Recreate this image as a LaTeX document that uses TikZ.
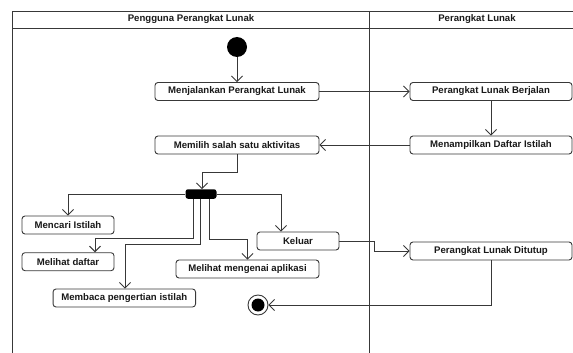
\documentclass[tikz,border=0pt]{standalone}
\usepackage{fontspec}
\setmainfont{Liberation Sans}
\usetikzlibrary{arrows.meta}
\begin{document}
\begin{tikzpicture}[x=1pt,y=-1pt,
  ln/.style={draw=black!78,line width=0.9pt},
  flow/.style={ln,-{Straight Barb[length=5.5pt,width=11pt,line width=0.9pt]}},
  act/.style={ln,rounded corners=3pt,fill=white,minimum height=18pt,inner sep=0pt,
    font=\fontsize{9.6}{11}\selectfont\bfseries,text=black!90},
  hdr/.style={font=\fontsize{9.6}{11}\selectfont\bfseries,text=black!90}]
\useasboundingbox (0,0) rectangle (573,353);
% swimlane frame
\coordinate (fl) at (12.8,11);
\coordinate (fr) at (573,11);
\coordinate (hl) at (12.8,28.3);
\coordinate (hr) at (573,28.3);
\coordinate (bl) at (12.8,353);
\coordinate (dt) at (369,11);
\coordinate (db) at (369,353);
\draw[ln] (bl) -- (fl) -- (fr);
\draw[ln] (hl) -- (hr);
\draw[ln] (dt) -- (db);
\node[hdr] (h1) at (191,19.5) {Pengguna Perangkat Lunak};
\node[hdr] (h2) at (477,19.5) {Perangkat Lunak};
% nodes
\node[circle,fill=black,minimum size=20pt,inner sep=0pt] (start) at (237,47) {};
\node[act,minimum width=164pt] (m1) at (237,91.5) {Menjalankan Perangkat Lunak};
\node[act,minimum width=162pt] (p1) at (491,91.5) {Perangkat Lunak Berjalan};
\node[act,minimum width=164pt] (m2) at (237,145) {Memilih salah satu aktivitas};
\node[act,minimum width=162pt] (p2) at (491,145) {Menampilkan Daftar Istilah};
\node[fill=black,rounded corners=2.5pt,minimum width=31pt,minimum height=9.5pt,inner sep=0pt] (bar) at (201,194) {};
\node[act,minimum width=92pt] (a1) at (68,225) {Mencari Istilah};
\node[act,minimum width=92pt] (a2) at (68,261.7) {Melihat daftar};
\node[act,minimum width=142.5pt] (a3) at (124.3,298) {Membaca pengertian istilah};
\node[act,minimum width=143pt] (a4) at (247.5,269) {Melihat mengenai aplikasi};
\node[act,minimum width=82pt] (k) at (298,241) {Keluar};
\node[act,minimum width=162pt] (p3) at (491,251) {Perangkat Lunak Ditutup};
\node[circle,draw=black!78,line width=0.9pt,fill=white,minimum size=20pt,inner sep=0pt] (end) at (258,305) {};
\node[circle,fill=black,minimum size=13pt,inner sep=0pt] (endin) at (end) {};
% connectors
\draw[flow] (start) -- (m1);
\draw[flow] (m1.east) -- (p1.west);
\draw[flow] (p1) -- (p2);
\draw[flow] (p2.west) -- (m2.east);
\draw[flow] (m2.south) -- ++(0,18) -| ([xshift=1pt]bar.north);
\draw[flow] (bar.west) -| (a1.north);
\draw[flow] ([xshift=-8pt]bar.south) -- ++(0,39.5) -| ([xshift=27pt]a2.north);
\draw[flow] ([xshift=-0.5pt]bar.south) -- ++(0,45.3) -| ([xshift=0.7pt]a3.north);
\draw[flow] ([xshift=8pt]bar.south) -- ++(0,40.3) -| (a4.north);
\draw[flow] (bar.east) -| ([xshift=-17pt]k.north);
\draw[flow] (k.east) -- ++(34.5,0) |- (p3.west);
\draw[flow] (p3.south) |- (end.east);
\end{tikzpicture}
\end{document}
